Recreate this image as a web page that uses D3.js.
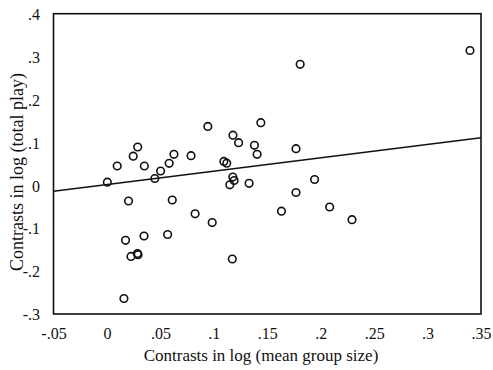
<!DOCTYPE html>
<html>
<head>
<meta charset="utf-8">
<script src="https://cdn.jsdelivr.net/npm/d3@7"></script>
<style>
  html, body { margin: 0; padding: 0; background: #fff; }
  svg { display: block; }
  svg text { font-family: "Liberation Serif", "Times New Roman", serif !important; fill: #111; }
</style>
</head>
<body>
<svg id="chart" width="493" height="370"></svg>
<script>
// Data: contrasts in log(mean group size) vs contrasts in log(total play)
const xValues = [0.0004, 0.0096, 0.0246, 0.0288, 0.035, 0.0448, 0.0502, 0.0582, 0.0627, 0.0787,
  0.0944, 0.1094, 0.1121, 0.1179, 0.1232, 0.144, 0.138, 0.1405, 0.1769, 0.1178,
  0.119, 0.115, 0.133, 0.1943, 0.1769, 0.2084, 0.1633, 0.2293, 0.1808, 0.3397,
  0.0202, 0.0611, 0.0825, 0.0985, 0.0174, 0.0347, 0.0568, 0.0225, 0.0285, 0.0291,
  0.0159, 0.1173];
const yValues = [0.0072, 0.045, 0.068, 0.0893, 0.045, 0.0159, 0.0333, 0.0513, 0.0723, 0.069,
  0.1373, 0.0557, 0.0515, 0.1168, 0.0993, 0.1459, 0.0932, 0.0723, 0.0853, 0.0193,
  0.0112, 0.0012, 0.0047, 0.0135, -0.0168, -0.0506, -0.0604, -0.0802, 0.282, 0.3142,
  -0.0366, -0.0343, -0.0664, -0.0869, -0.1282, -0.1182, -0.1147, -0.1657, -0.159, -0.1618,
  -0.2639, -0.1718];
// Fitted line endpoints
const lineX = [-0.05, 0.35];
const lineY = [-0.014, 0.111];
// Tick values and labels
const xTickValues = [-0.05, 0, 0.05, 0.1, 0.15, 0.2, 0.25, 0.3, 0.35];
const xTickLabels = ["-.05", "0", ".05", ".1", ".15", ".2", ".25", ".3", ".35"];
const yTickValues = [-0.3, -0.2, -0.1, 0, 0.1, 0.2, 0.3, 0.4];
const yTickLabels = ["-.3", "-.2", "-.1", "0", ".1", ".2", ".3", ".4"];
const xTitle = "Contrasts in log (mean group size)";
const yTitle = "Contrasts in log (total play)";

(function () {
const FONT = "Liberation Serif, Times New Roman, serif";
const svg = d3.select("#chart");
const mL = 53.5, mR = 481, mT = 13.7, mB = 314;

const x = d3.scaleLinear().domain([-0.05, 0.35]).range([mL, mR]);
const y = d3.scaleLinear().domain([-0.3, 0.4]).range([mB, mT]);

// X axis labels
const xAxis = d3.axisBottom(x)
  .tickValues(xTickValues)
  .tickSize(0)
  .tickPadding(0)
  .tickFormat((d, i) => xTickLabels[i]);
const gx = svg.append("g").attr("transform", `translate(0,${mB})`).call(xAxis)
  .attr("font-family", FONT).attr("font-size", 16);
gx.select(".domain").remove();
gx.selectAll("text")
  .attr("y", 24.5).attr("dy", null)
  .attr("fill", "#111");

// Y axis labels
const yAxis = d3.axisLeft(y)
  .tickValues(yTickValues)
  .tickSize(0)
  .tickPadding(0)
  .tickFormat((d, i) => yTickLabels[i]);
const gy = svg.append("g").attr("transform", `translate(40,0)`).call(yAxis)
  .attr("font-family", FONT).attr("font-size", 16);
gy.select(".domain").remove();
gy.selectAll("text")
  .attr("x", 0).attr("dy", "0.36em")
  .attr("fill", "#111");

// Frame
svg.append("rect")
  .attr("x", mL).attr("y", mT)
  .attr("width", mR - mL).attr("height", mB - mT)
  .attr("fill", "none").attr("stroke", "#111").attr("stroke-width", 1.6);

// Regression line
svg.append("line")
  .attr("x1", x(lineX[0])).attr("y1", y(lineY[0]))
  .attr("x2", x(lineX[1])).attr("y2", y(lineY[1]))
  .attr("stroke", "#111").attr("stroke-width", 1.4);

// Points
const pts = xValues.map((v, i) => [v, yValues[i]]);
svg.append("g").selectAll("circle").data(pts).join("circle")
  .attr("cx", d => x(d[0])).attr("cy", d => y(d[1]))
  .attr("r", 3.8)
  .attr("fill", "none").attr("stroke", "#111").attr("stroke-width", 1.6);

// Axis titles
svg.append("text")
  .attr("x", 261).attr("y", 360.5)
  .attr("text-anchor", "middle")
  .attr("font-family", FONT)
  .attr("font-size", 17)
  .text(xTitle);

svg.append("text")
  .attr("transform", "translate(23,172) rotate(-90)")
  .attr("text-anchor", "middle")
  .attr("font-family", FONT)
  .attr("font-size", 18)
  .text(yTitle);
})();
</script>
</body>
</html>
